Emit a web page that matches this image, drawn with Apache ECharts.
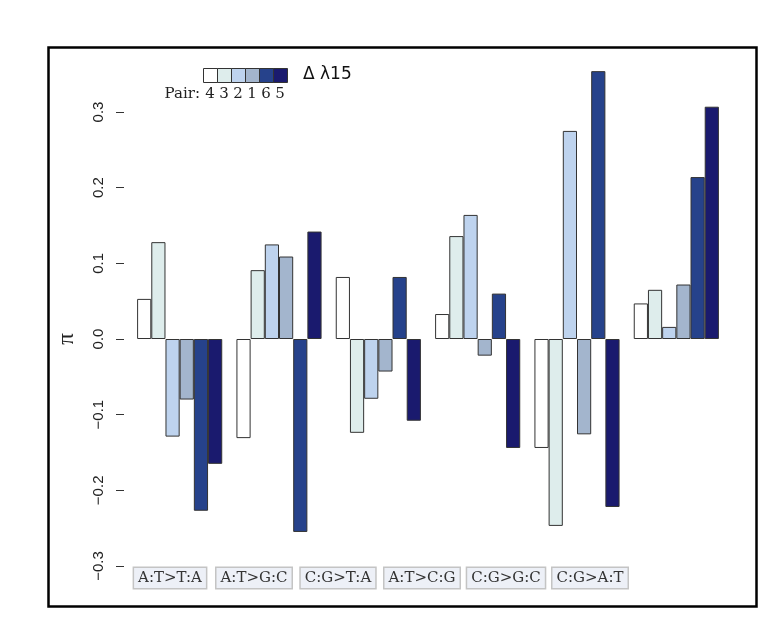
<!DOCTYPE html>
<html>
<head>
<meta charset="utf-8">
<script src="https://cdn.jsdelivr.net/npm/echarts@6/dist/echarts.min.js"></script>
<style>
html,body{margin:0;padding:0;background:#fff;}
#chart{width:781px;height:639px;}
</style>
</head>
<body>
<div id="chart"></div>
<script>
const categories = ['A:T>T:A', 'A:T>G:C', 'C:G>T:A', 'A:T>C:G', 'C:G>G:C', 'C:G>A:T'];
const pairs = ['4', '3', '2', '1', '6', '5'];
const colors = ['#ffffff', '#deedec', '#bed3ee', '#a3b5cd', '#26428b', '#1a1a6e'];
const pair4 = [0.053, -0.131, 0.082, 0.033, -0.144, 0.047];
const pair3 = [0.128, 0.091, -0.124, 0.136, -0.247, 0.065];
const pair2 = [-0.129, 0.125, -0.079, 0.164, 0.275, 0.016];
const pair1 = [-0.080, 0.109, -0.043, -0.022, -0.126, 0.072];
const pair6 = [-0.227, -0.255, 0.082, 0.060, 0.354, 0.214];
const pair5 = [-0.165, 0.142, -0.108, -0.144, -0.222, 0.307];
const seriesValues = [pair4, pair3, pair2, pair1, pair6, pair5];
const yTicks = [-0.3, -0.2, -0.1, 0.0, 0.1, 0.2, 0.3];
const legendTitle = '\u0394 \u03bb15';
const pairLabel = 'Pair:';

const chart = echarts.init(document.getElementById('chart'));

const serifFont = '"DejaVu Serif", "Liberation Serif", serif';

const series = pairs.map((p, i) => ({
  name: p,
  type: 'bar',
  xAxisIndex: 0,
  yAxisIndex: 0,
  data: seriesValues[i],
  barGap: '0%',
  barCategoryGap: (100 / 7) + '%',
  clip: false,
  itemStyle: { color: colors[i], borderColor: '#333333', borderWidth: 1 },
  emphasis: { disabled: true },
  animation: false
}));

// legend swatches (key) and pair numbers under them
const legendKey = [];
pairs.forEach((p, i) => {
  legendKey.push({
    type: 'rect', left: 203 + 14 * i, top: 68,
    shape: { width: 14, height: 14 },
    style: { fill: colors[i], stroke: '#333', lineWidth: 1 }
  });
  legendKey.push({
    type: 'text', x: 203 + 14 * i + 7, y: 94,
    style: { text: p, font: '15px ' + serifFont, fill: '#222', textAlign: 'center', textVerticalAlign: 'middle' }
  });
});

chart.setOption({
  animation: false,
  backgroundColor: '#ffffff',
  grid: [
    { left: 130, width: 596, top: 112, height: 454 },
    { left: 128, width: 504, top: 560, height: 1 }
  ],
  xAxis: [
    {
      gridIndex: 0, type: 'category', data: categories,
      axisLine: { show: false }, axisTick: { show: false }, axisLabel: { show: false },
      splitLine: { show: false }
    },
    {
      gridIndex: 1, type: 'category', data: categories,
      axisLine: { show: false }, axisTick: { show: false }, splitLine: { show: false },
      axisLabel: {
        show: true, interval: 0, margin: 7,
        fontFamily: serifFont, fontSize: 15, color: '#333',
        backgroundColor: '#edf0f7', borderColor: '#c4c4c4', borderWidth: 1.5,
        padding: [3, 4, 2, 4]
      }
    }
  ],
  yAxis: [
    {
      gridIndex: 0, type: 'value', min: -0.3, max: 0.3, interval: 0.1, offset: 6,
      name: '\u03c0', nameLocation: 'middle', nameGap: 46, nameRotate: 90,
      nameTextStyle: { fontFamily: '"Liberation Serif", serif', fontSize: 23, color: '#222' },
      axisLine: { show: false },
      axisTick: { show: true, inside: false, length: 8, lineStyle: { color: '#333', width: 1 } },
      splitLine: { show: false },
      axisLabel: {
        rotate: 90, margin: 18, fontFamily: '"Liberation Sans", Arial, sans-serif', fontSize: 15, color: '#222',
        formatter: v => {
          const t = yTicks.find(x => Math.abs(x - v) < 1e-9);
          const s = Math.abs(t).toFixed(1);
          return (t < -1e-9 ? '\u2212' : '') + s;
        }
      }
    },
    { gridIndex: 1, type: 'value', show: false }
  ],
  graphic: [
    {
      type: 'rect', left: 46, top: 45,
      shape: { width: 708, height: 559 },
      style: { fill: 'none', stroke: '#000', lineWidth: 2.5 }
    },
    {
      type: 'text', x: 303, y: 75,
      style: { text: legendTitle, font: '17px "DejaVu Sans", sans-serif', fill: '#111', textVerticalAlign: 'middle' }
    },
    {
      type: 'text', x: 200, y: 94,
      style: { text: pairLabel, font: '15px ' + serifFont, fill: '#222', textAlign: 'right', textVerticalAlign: 'middle' }
    }
  ].concat(legendKey),
  series: series
});
</script>
</body>
</html>
